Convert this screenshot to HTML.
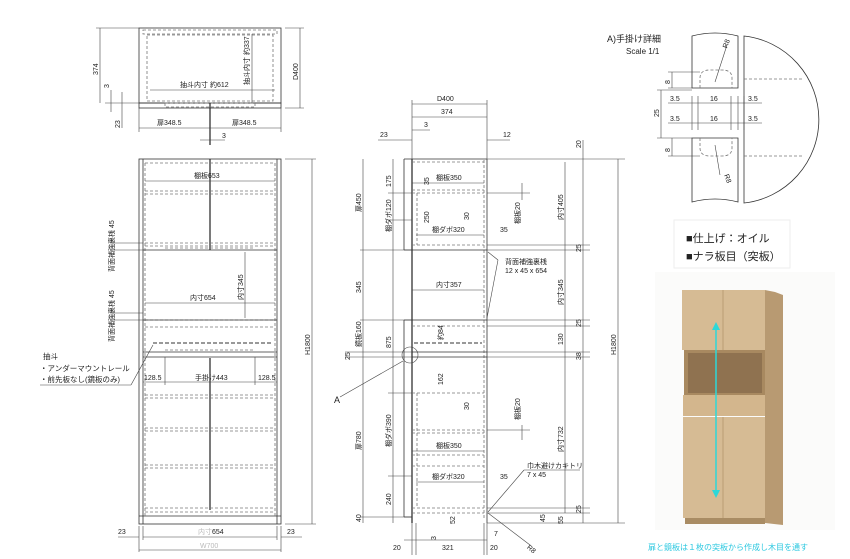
<!DOCTYPE html>
<html><head><meta charset="utf-8"><style>
html,body{margin:0;padding:0;background:#fff;width:850px;height:559px;overflow:hidden}
svg{display:block}
text{font-family:"Liberation Sans","Noto Sans CJK JP",sans-serif;font-size:7px;fill:#222}
.l{stroke:#333;stroke-width:0.8;fill:none}
.t{stroke:#222;stroke-width:1.2;fill:none}
.d{stroke:#777;stroke-width:0.8;fill:none;stroke-dasharray:3 2}
.dd{stroke:#999;stroke-width:2;fill:none;stroke-dasharray:4 2}
.m{stroke:#444;stroke-width:0.6;fill:none}
</style></head><body>
<svg width="850" height="559" viewBox="0 0 850 559" xmlns="http://www.w3.org/2000/svg">
<!-- ===== TOP VIEW ===== -->
<rect class="l" x="139" y="28" width="142" height="75"/>
<rect class="d" x="143" y="30" width="134" height="4"/>
<rect class="d" x="147" y="35" width="126" height="66"/>
<rect class="l" x="139" y="103" width="142" height="5"/>
<rect class="d" x="165" y="103" width="90" height="4"/>
<line class="t" x1="210" y1="103" x2="210" y2="145"/>
<line class="m" x1="150" y1="90" x2="275" y2="90"/><text x="180" y="87">抽斗内寸 約612</text>
<line class="m" x1="252" y1="34" x2="252" y2="103"/><text x="0" y="0" transform="translate(249,85) rotate(-90)">抽斗内寸 約337</text>
<line class="m" x1="100" y1="28" x2="100" y2="103"/><line class="m" x1="96" y1="28" x2="139" y2="28"/>
<text transform="translate(98,75) rotate(-90)">374</text>
<line class="m" x1="111" y1="90" x2="111" y2="112"/><text transform="translate(109,88) rotate(-90)">3</text>
<line class="m" x1="122" y1="92" x2="122" y2="128"/><text transform="translate(120,128) rotate(-90)">23</text>
<line class="m" x1="105" y1="103" x2="139" y2="103"/>
<line class="m" x1="300" y1="28" x2="300" y2="108"/><line class="m" x1="285" y1="28" x2="304" y2="28"/><line class="m" x1="285" y1="108" x2="304" y2="108"/>
<text transform="translate(298,80) rotate(-90)">D400</text>
<line class="m" x1="139" y1="108" x2="139" y2="132"/><line class="m" x1="281" y1="108" x2="281" y2="132"/>
<line class="m" x1="139" y1="128" x2="281" y2="128"/>
<text x="157" y="125">扉348.5</text><text x="232" y="125">扉348.5</text>
<line class="m" x1="200" y1="140" x2="225" y2="140"/><text x="222" y="138">3</text>

<!-- ===== FRONT VIEW ===== -->
<rect class="l" x="139" y="159" width="142" height="365"/>
<line class="l" x1="143" y1="159" x2="143" y2="524"/><line class="l" x1="277" y1="159" x2="277" y2="524"/>
<line class="l" x1="139" y1="516" x2="281" y2="516"/>
<line class="t" x1="210" y1="159" x2="210" y2="250"/>
<line class="t" x1="210" y1="358" x2="210" y2="510"/>
<g class="d">
<line x1="145" y1="163" x2="275" y2="163"/>
<line x1="145" y1="191" x2="275" y2="191"/><line x1="145" y1="194" x2="275" y2="194"/>
<line x1="145" y1="243" x2="275" y2="243"/><line x1="145" y1="246" x2="275" y2="246"/>
<line x1="145" y1="320" x2="275" y2="320"/><line x1="145" y1="327" x2="275" y2="327"/>
<line x1="145" y1="395" x2="275" y2="395"/><line x1="145" y1="398" x2="275" y2="398"/>
<line x1="145" y1="428" x2="275" y2="428"/><line x1="145" y1="431" x2="275" y2="431"/>
<line x1="145" y1="465" x2="275" y2="465"/><line x1="145" y1="468" x2="275" y2="468"/>
<line x1="145" y1="508" x2="275" y2="508"/><line x1="145" y1="512" x2="275" y2="512"/>
<line x1="145" y1="163" x2="145" y2="516"/><line x1="275" y1="163" x2="275" y2="516"/>
</g>
<line class="l" x1="143" y1="250" x2="277" y2="250"/>
<line class="l" x1="143" y1="320" x2="277" y2="320"/>
<line class="l" x1="143" y1="352" x2="277" y2="352"/><line class="l" x1="143" y1="357" x2="277" y2="357"/>
<line class="dd" x1="153" y1="343" x2="272" y2="343"/>
<line class="d" x1="165" y1="248" x2="255" y2="248"/><line class="d" x1="165" y1="350" x2="255" y2="350"/>
<line class="m" x1="145" y1="181" x2="275" y2="181"/><text x="194" y="178">棚板653</text>
<line class="m" x1="145" y1="303" x2="275" y2="303"/><text x="190" y="300">内寸654</text>
<line class="m" x1="245" y1="252" x2="245" y2="318"/><text transform="translate(243,300) rotate(-90)">内寸345</text>
<line class="m" x1="165" y1="357" x2="165" y2="385"/><line class="m" x1="255" y1="357" x2="255" y2="385"/>
<line class="m" x1="143" y1="382" x2="277" y2="382"/>
<text x="144" y="380">128.5</text><text x="195" y="380">手掛け443</text><text x="258" y="380">128.5</text>
<text transform="translate(114,272) rotate(-90)">背面補強裏桟 45</text>
<text transform="translate(114,342) rotate(-90)">背面補強裏桟 45</text>
<line class="m" x1="110" y1="243" x2="143" y2="243"/><line class="m" x1="110" y1="250" x2="143" y2="250"/>
<line class="m" x1="110" y1="313" x2="143" y2="313"/><line class="m" x1="110" y1="320" x2="143" y2="320"/>
<text x="43" y="359" style="font-size:7.5px">抽斗</text>
<text x="40" y="371" style="font-size:7.5px">・アンダーマウントレール</text>
<text x="40" y="382" style="font-size:7.5px">・前先板なし(鏡板のみ)</text>
<line class="m" x1="40" y1="385" x2="131" y2="385"/><line class="m" x1="131" y1="385" x2="153" y2="345"/>
<line class="m" x1="312" y1="159" x2="312" y2="524"/><line class="m" x1="285" y1="159" x2="316" y2="159"/><line class="m" x1="285" y1="524" x2="316" y2="524"/>
<text transform="translate(310,355) rotate(-90)">H1800</text>
<line class="m" x1="139" y1="526" x2="139" y2="552"/><line class="m" x1="281" y1="526" x2="281" y2="552"/>
<line class="m" x1="143" y1="526" x2="143" y2="540"/><line class="m" x1="277" y1="526" x2="277" y2="540"/>
<line class="m" x1="143" y1="537" x2="277" y2="537"/><line class="m" x1="118" y1="537" x2="139" y2="537"/><line class="m" x1="281" y1="537" x2="302" y2="537"/>
<text x="118" y="534">23</text><text x="287" y="534">23</text>
<text x="198" y="534"><tspan style="fill:#bbb">内寸</tspan>654</text>
<line class="m" x1="139" y1="550" x2="281" y2="550"/><text x="200" y="548" style="fill:#bbb">W700</text>

<!-- ===== SIDE VIEW ===== -->
<line class="t" x1="412" y1="159" x2="412" y2="523"/>
<line class="l" x1="487" y1="159" x2="487" y2="523"/>
<line class="l" x1="404" y1="159" x2="404" y2="250"/><line class="l" x1="404" y1="250" x2="412" y2="250"/>
<line class="l" x1="404" y1="320" x2="404" y2="517"/><line class="l" x1="404" y1="517" x2="412" y2="517"/><line class="l" x1="404" y1="320" x2="412" y2="320"/>
<line class="l" x1="404" y1="159" x2="487" y2="159"/>
<line class="d" x1="484" y1="160" x2="484" y2="520"/>
<g class="d">
<line x1="412" y1="162" x2="484" y2="162"/><line x1="412" y1="190" x2="484" y2="190"/><line x1="412" y1="193" x2="484" y2="193"/>
<line x1="412" y1="245" x2="484" y2="245"/>
<line x1="412" y1="326" x2="484" y2="326"/>
<line x1="412" y1="393" x2="484" y2="393"/><line x1="412" y1="430" x2="484" y2="430"/><line x1="412" y1="433" x2="484" y2="433"/>
<line x1="412" y1="455" x2="484" y2="455"/><line x1="412" y1="466" x2="484" y2="466"/>
<line x1="412" y1="508" x2="484" y2="508"/><line x1="412" y1="513" x2="484" y2="513"/>
<line x1="417" y1="193" x2="417" y2="245"/><line x1="417" y1="393" x2="417" y2="508"/>
</g>
<line class="l" x1="412" y1="250" x2="487" y2="250"/><line class="l" x1="412" y1="320" x2="487" y2="320"/>
<line class="l" x1="412" y1="352" x2="487" y2="352"/><line class="l" x1="412" y1="357" x2="487" y2="357"/>
<line class="dd" x1="414" y1="343" x2="482" y2="343"/>
<circle class="m" cx="410" cy="355" r="8"/>
<line class="m" x1="340" y1="397" x2="403" y2="361"/><text x="334" y="403" style="font-size:9px">A</text>
<line class="m" x1="412" y1="183" x2="484" y2="183"/><text x="436" y="180">棚板350</text>
<line class="m" x1="416" y1="235" x2="484" y2="235"/><text x="432" y="232">棚ダボ320</text>
<line class="m" x1="412" y1="290" x2="484" y2="290"/><text x="436" y="287">内寸357</text>
<line class="m" x1="412" y1="451" x2="484" y2="451"/><text x="436" y="448">棚板350</text>
<line class="m" x1="416" y1="482" x2="484" y2="482"/><text x="432" y="479">棚ダボ320</text>
<text x="500" y="232">35</text><text x="500" y="479">35</text>
<line class="m" x1="412" y1="104" x2="487" y2="104"/><text x="437" y="101">D400</text>
<line class="m" x1="412" y1="117" x2="487" y2="117"/><text x="441" y="114">374</text>
<line class="m" x1="412" y1="130" x2="430" y2="130"/><text x="424" y="127">3</text>
<line class="m" x1="378" y1="140" x2="412" y2="140"/><text x="380" y="137">23</text>
<line class="m" x1="487" y1="140" x2="510" y2="140"/><text x="503" y="137">12</text>
<line class="m" x1="412" y1="100" x2="412" y2="159"/><line class="m" x1="487" y1="100" x2="487" y2="159"/>
<!-- left dims -->
<line class="m" x1="363" y1="159" x2="363" y2="523"/><line class="m" x1="393" y1="159" x2="393" y2="523"/>
<line class="m" x1="360" y1="250" x2="412" y2="250"/><line class="m" x1="360" y1="320" x2="412" y2="320"/><line class="m" x1="360" y1="517" x2="412" y2="517"/>
<line class="m" x1="388" y1="193" x2="412" y2="193"/><line class="m" x1="388" y1="220" x2="412" y2="220"/><line class="m" x1="388" y1="393" x2="412" y2="393"/><line class="m" x1="388" y1="476" x2="412" y2="476"/>
<line class="m" x1="345" y1="352" x2="412" y2="352"/><line class="m" x1="345" y1="357" x2="412" y2="357"/>
<text transform="translate(361,212) rotate(-90)">扉450</text><text transform="translate(361,293) rotate(-90)">345</text>
<text transform="translate(361,347) rotate(-90)">鏡板160</text><text transform="translate(361,450) rotate(-90)">扉780</text>
<text transform="translate(361,522) rotate(-90)">40</text><text transform="translate(350,360) rotate(-90)">25</text>
<text transform="translate(391,187) rotate(-90)">175</text><text transform="translate(391,232) rotate(-90)">棚ダボ120</text>
<text transform="translate(391,348) rotate(-90)">875</text><text transform="translate(391,447) rotate(-90)">棚ダボ390</text>
<text transform="translate(391,505) rotate(-90)">240</text>
<text transform="translate(429,185) rotate(-90)">35</text><text transform="translate(429,223) rotate(-90)">250</text>
<text transform="translate(469,220) rotate(-90)">30</text><text transform="translate(443,340) rotate(-90)">約84</text>
<text transform="translate(443,385) rotate(-90)">162</text><text transform="translate(469,410) rotate(-90)">30</text>
<text transform="translate(455,524) rotate(-90)">52</text>
<line class="m" x1="522" y1="183" x2="522" y2="200"/><text transform="translate(520,224) rotate(-90)">棚板20</text>
<line class="m" x1="522" y1="425" x2="522" y2="440"/><text transform="translate(520,420) rotate(-90)">棚板20</text>
<line class="m" x1="487" y1="193" x2="530" y2="193"/><line class="m" x1="487" y1="430" x2="530" y2="430"/>
<!-- right dims -->
<line class="m" x1="565" y1="162" x2="565" y2="513"/><line class="m" x1="583" y1="140" x2="583" y2="523"/>
<line class="m" x1="618" y1="159" x2="618" y2="523"/>
<g class="m"><line x1="487" y1="159" x2="625" y2="159"/><line x1="487" y1="245" x2="590" y2="245"/><line x1="487" y1="250" x2="590" y2="250"/>
<line x1="487" y1="320" x2="590" y2="320"/><line x1="487" y1="326" x2="590" y2="326"/><line x1="487" y1="352" x2="590" y2="352"/><line x1="487" y1="357" x2="590" y2="357"/>
<line x1="487" y1="508" x2="590" y2="508"/><line x1="487" y1="513" x2="590" y2="513"/><line x1="487" y1="523" x2="625" y2="523"/></g>
<text transform="translate(563,220) rotate(-90)">内寸405</text><text transform="translate(563,305) rotate(-90)">内寸345</text>
<text transform="translate(563,345) rotate(-90)">130</text><text transform="translate(563,452) rotate(-90)">内寸732</text>
<text transform="translate(563,524) rotate(-90)">55</text><text transform="translate(545,522) rotate(-90)">45</text>
<text transform="translate(581,148) rotate(-90)">20</text><text transform="translate(581,252) rotate(-90)">25</text>
<text transform="translate(581,327) rotate(-90)">25</text><text transform="translate(581,360) rotate(-90)">38</text>
<text transform="translate(581,513) rotate(-90)">25</text>
<text transform="translate(616,355) rotate(-90)">H1800</text>
<text x="505" y="264">背面補強裏桟</text><text x="505" y="273">12 x 45 x 654</text>
<line class="m" x1="498" y1="260" x2="487" y2="318"/><line class="m" x1="498" y1="260" x2="488" y2="252"/>
<text x="527" y="468">巾木避けカキトリ</text><text x="527" y="477">7 x 45</text>
<line class="m" x1="524" y1="470" x2="580" y2="470"/><line class="m" x1="524" y1="470" x2="488" y2="512"/>
<line class="m" x1="488" y1="513" x2="530" y2="545"/><text x="528" y="550" transform="rotate(40 530 547)">R8</text>
<line class="m" x1="404" y1="540" x2="487" y2="540"/><text x="393" y="550">20</text><text x="442" y="550">321</text><text x="490" y="550">20</text>
<text x="494" y="536">7</text><text transform="translate(436,540) rotate(-90)">3</text>
<line class="m" x1="412" y1="523" x2="412" y2="555"/><line class="m" x1="416" y1="523" x2="416" y2="555"/><line class="m" x1="484" y1="523" x2="484" y2="555"/><line class="m" x1="487" y1="523" x2="487" y2="555"/>

<!-- ===== DETAIL A ===== -->
<text x="607" y="42" style="font-size:9px">A)手掛け詳細</text><text x="626" y="54" style="font-size:8px">Scale 1/1</text>
<path class="l" d="M692 36 Q715 30 738 36 L738 88 L692 88 Z"/>
<path class="l" d="M692 138 L738 138 L738 202 Q715 196 692 202 Z"/>
<path class="l" d="M744 36 A84 84 0 0 1 744 203 Z"/>
<line class="d" x1="744" y1="79" x2="802" y2="79"/><line class="d" x1="744" y1="156" x2="802" y2="156"/>
<path class="d" d="M700 88 L700 78 Q700 70 710 70 L722 70 Q732 70 732 78 L732 88"/>
<path class="d" d="M700 138 L700 148 Q700 156 710 156 L722 156 Q732 156 732 148 L732 138"/>
<line class="m" x1="715" y1="82" x2="727" y2="45"/><text x="725" y="50" transform="rotate(-70 725 48)">R8</text>
<line class="m" x1="715" y1="145" x2="720" y2="175"/><text x="720" y="175" transform="rotate(70 722 178)">R8</text>
<g class="m"><line x1="668" y1="72" x2="700" y2="72"/><line x1="668" y1="88" x2="692" y2="88"/><line x1="657" y1="90" x2="692" y2="90"/>
<line x1="657" y1="138" x2="692" y2="138"/><line x1="668" y1="156" x2="700" y2="156"/>
<line x1="672" y1="72" x2="672" y2="88"/><line x1="661" y1="90" x2="661" y2="138"/><line x1="672" y1="138" x2="672" y2="156"/>
<line x1="668" y1="103" x2="762" y2="103"/><line x1="668" y1="123" x2="762" y2="123"/>
<line x1="692" y1="96" x2="692" y2="130"/><line x1="698" y1="96" x2="698" y2="130"/><line x1="731" y1="96" x2="731" y2="130"/><line x1="738" y1="96" x2="738" y2="130"/><line x1="744" y1="96" x2="744" y2="130"/></g>
<text transform="translate(670,84) rotate(-90)">8</text><text transform="translate(659,117) rotate(-90)">25</text><text transform="translate(670,152) rotate(-90)">8</text>
<text x="670" y="101">3.5</text><text x="710" y="101">16</text><text x="748" y="101">3.5</text>
<text x="670" y="121">3.5</text><text x="710" y="121">16</text><text x="748" y="121">3.5</text>
<!-- info box -->
<rect x="674" y="220" width="116" height="48" fill="#fff" stroke="#eee"/>
<text x="686" y="242" style="font-size:11px">■仕上げ：オイル</text>
<text x="686" y="260" style="font-size:11px">■ナラ板目（突板）</text>
<!-- photo -->
<rect x="655" y="272" width="180" height="258" fill="#fbfbfa"/>
<polygon points="765,290 775,292 783,295 783,525 765,523" fill="#b89a72"/>
<rect x="682" y="290" width="83" height="60" fill="#d6bb94"/>
<line x1="723" y1="290" x2="723" y2="350" stroke="#b3966d" stroke-width="0.8"/>
<rect x="684" y="350" width="81" height="45" fill="#a88960"/>
<rect x="688" y="353" width="74" height="40" fill="#8f7250"/>
<rect x="683" y="395" width="82" height="21" fill="#d3b68d"/>
<rect x="683" y="417" width="82" height="101" fill="#d6bb94"/>
<line x1="723" y1="417" x2="723" y2="518" stroke="#b3966d" stroke-width="0.8"/>
<rect x="685" y="518" width="80" height="6" fill="#a98c64"/>
<line x1="716" y1="326" x2="716" y2="494" stroke="#2dd8d8" stroke-width="1.5"/>
<polygon points="716,322 712,330 720,330" fill="#2dd8d8"/><polygon points="716,498 712,490 720,490" fill="#2dd8d8"/>
<text x="648" y="550" style="font-size:8px;fill:#2cc8e0">扉と鏡板は１枚の突板から作成し木目を通す</text>
</svg>
</body></html>
